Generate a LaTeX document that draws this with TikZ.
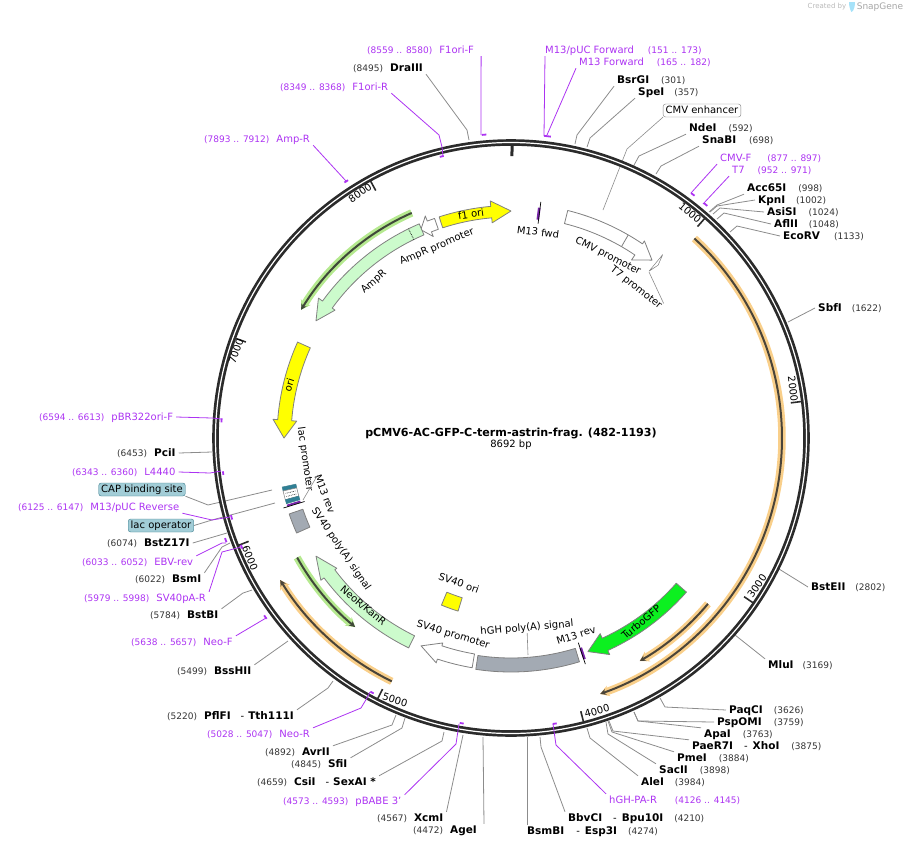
\documentclass[tikz,border=0pt]{standalone}
\usepackage{fontspec}
\setmainfont{DejaVu Sans}
\usetikzlibrary{arrows.meta}
\definecolor{ringc}{HTML}{2B2B2B}
\definecolor{primerc}{HTML}{AC33F2}
\definecolor{leaderc}{HTML}{8C8C8C}
\definecolor{ampc}{HTML}{CCFBCC}
\definecolor{grayc}{HTML}{A3AAB3}
\definecolor{capc}{HTML}{A2CDD7}
\definecolor{capd}{HTML}{3E7F8F}
\definecolor{tealc}{HTML}{2F7F95}
\definecolor{orangec}{HTML}{F9CF8A}
\definecolor{limec}{HTML}{B5E98F}
\definecolor{oric}{HTML}{FFFF00}
\definecolor{gfpc}{HTML}{0CF020}
\newcommand{\bpnum}[1]{{\fontsize{9}{10}\selectfont\color[HTML]{333333}#1}}
\newcommand{\enzname}[1]{{\fontsize{10.5}{12}\selectfont\bfseries #1}}
\tikzset{
  lab/.style={anchor=west, inner xsep=3pt, inner ysep=1pt, xshift=-3pt, text height=8pt, text depth=2pt, font=\fontsize{10}{12}\selectfont},
  enzlabel/.style={lab},
  primerlabel/.style={lab, text=primerc},
  boxlabel/.style={rounded corners=2.5pt, inner xsep=2.5pt, inner ysep=1.5pt, text height=8pt, text depth=2pt, font=\fontsize{10}{12}\selectfont},
  featlabel/.style={inner sep=0pt, font=\fontsize{10}{12}\selectfont},
  ticklabel/.style={inner sep=0pt, font=\fontsize{10}{12}\selectfont},
  enzline/.style={draw=leaderc, line width=0.8pt},
  primerline/.style={draw=primerc, line width=0.8pt},
  primerbar/.style={draw=primerc, line width=1.8pt},
  feat/.style={draw=gray, line width=0.8pt, line join=round},
  glow/.style={line width=7.5pt},
  core/.style={draw=ringc!85!orangec, line width=2pt, -{Stealth[length=6pt,width=6pt]}},
}
\begin{document}
\begin{tikzpicture}[x=1pt,y=-1pt]
  \useasboundingbox (0,0) rectangle (906,847);

  % enzyme labels, top and right
  \node[enzlabel] (bsrgi) at(617,80){\enzname{BsrGI}\hspace{12pt}\bpnum{(301)}};
  \node[enzlabel] (spei) at(638,92){\enzname{SpeI}\hspace{10pt}\bpnum{(357)}};
  \node[enzlabel] (ndei) at(689,128){\enzname{NdeI}\hspace{12pt}\bpnum{(592)}};
  \node[enzlabel] (snabi) at(702,140){\enzname{SnaBI}\hspace{13pt}\bpnum{(698)}};
  \node[enzlabel] (acc65i) at(747,188){\enzname{Acc65I}\hspace{12pt}\bpnum{(998)}};
  \node[enzlabel] (kpni) at(758,200){\enzname{KpnI}\hspace{11pt}\bpnum{(1002)}};
  \node[enzlabel] (asisi) at(767,212){\enzname{AsiSI}\hspace{12pt}\bpnum{(1024)}};
  \node[enzlabel] (aflii) at(774,224){\enzname{AflII}\hspace{11pt}\bpnum{(1048)}};
  \node[enzlabel] (ecorv) at(783,236){\enzname{EcoRV}\hspace{14pt}\bpnum{(1133)}};
  \node[enzlabel] (sbfi) at(818,308){\enzname{SbfI}\hspace{10pt}\bpnum{(1622)}};
  \node[enzlabel] (bsteii) at(811,587){\enzname{BstEII}\hspace{10pt}\bpnum{(2802)}};
  \node[enzlabel] (mlui) at(768,665){\enzname{MluI}\hspace{9pt}\bpnum{(3169)}};
  \node[enzlabel] (paqci) at(729,710){\enzname{PaqCI}\hspace{11pt}\bpnum{(3626)}};
  \node[enzlabel] (pspomi) at(717,722){\enzname{PspOMI}\hspace{12pt}\bpnum{(3759)}};
  \node[enzlabel] (apai) at(704,734){\enzname{ApaI}\hspace{12pt}\bpnum{(3763)}};
  \node[enzlabel] (paer7i) at(692,746){\enzname{PaeR7I}\hspace{11pt}-\hspace{5pt}\enzname{XhoI}\hspace{12pt}\bpnum{(3875)}};
  \node[enzlabel] (pmei) at(677,758){\enzname{PmeI}\hspace{12pt}\bpnum{(3884)}};
  \node[enzlabel] (sacii) at(659,770){\enzname{SacII}\hspace{12pt}\bpnum{(3898)}};
  \node[enzlabel] (alei) at(641,782){\enzname{AleI}\hspace{11pt}\bpnum{(3984)}};
  \node[enzlabel] (bbvci) at(568,818){\enzname{BbvCI}\hspace{11pt}-\hspace{5pt}\enzname{Bpu10I}\hspace{11pt}\bpnum{(4210)}};
  \node[enzlabel] (bsmbi) at(527,831){\enzname{BsmBI}\hspace{12pt}-\hspace{5pt}\enzname{Esp3I}\hspace{11pt}\bpnum{(4274)}};

  % enzyme labels, bottom and left
  \node[enzlabel] (agei) at(413,830){\bpnum{(4472)}\hspace{7pt}\enzname{AgeI}};
  \node[enzlabel] (xcmi) at(377,818){\bpnum{(4567)}\hspace{7pt}\enzname{XcmI}};
  \node[enzlabel] (csii) at(257,782){\bpnum{(4659)}\hspace{7pt}\enzname{CsiI}\hspace{10pt}-\hspace{4pt}\enzname{SexAI *}};
  \node[enzlabel] (sfii) at(291,764){\bpnum{(4845)}\hspace{7pt}\enzname{SfiI}};
  \node[enzlabel] (avrii) at(265,752){\bpnum{(4892)}\hspace{7pt}\enzname{AvrII}};
  \node[enzlabel] (pflfi) at(167,716){\bpnum{(5220)}\hspace{7pt}\enzname{PflFI}\hspace{10pt}-\hspace{4pt}\enzname{Tth111I}};
  \node[enzlabel] (bsshii) at(177,671){\bpnum{(5499)}\hspace{7pt}\enzname{BssHII}};
  \node[enzlabel] (bstbi) at(150,615){\bpnum{(5784)}\hspace{7pt}\enzname{BstBI}};
  \node[enzlabel] (bsmi) at(135,579){\bpnum{(6022)}\hspace{7pt}\enzname{BsmI}};
  \node[enzlabel] (bstz17i) at(107,543){\bpnum{(6074)}\hspace{7pt}\enzname{BstZ17I}};
  \node[enzlabel] (pcii) at(117,453){\bpnum{(6453)}\hspace{7pt}\enzname{PciI}};
  \node[enzlabel] (draiii) at(353,68){\bpnum{(8495)}\hspace{7pt}\enzname{DraIII}};

  % primer labels
  \node[primerlabel] (f1ori-f) at(367,50){\bpnum{\color{primerc}(8559 .. 8580)}\hspace{7pt}F1ori-F};
  \node[primerlabel] (f1ori-r) at(280,87){\bpnum{\color{primerc}(8349 .. 8368)}\hspace{7pt}F1ori-R};
  \node[primerlabel] (amp-r) at(204,139){\bpnum{\color{primerc}(7893 .. 7912)}\hspace{7pt}Amp-R};
  \node[primerlabel] (m13-puc-f) at(545,50){M13/pUC Forward\hspace{14pt}\bpnum{\color{primerc}(151 .. 173)}};
  \node[primerlabel] (m13-f) at(579,62){M13 Forward\hspace{13pt}\bpnum{\color{primerc}(165 .. 182)}};
  \node[primerlabel] (cmv-f) at(720,158){CMV-F\hspace{16pt}\bpnum{\color{primerc}(877 .. 897)}};
  \node[primerlabel] (t7) at(732,170){T7\hspace{13pt}\bpnum{\color{primerc}(952 .. 971)}};
  \node[primerlabel] (pbr322) at(39,417){\bpnum{\color{primerc}(6594 .. 6613)}\hspace{7pt}pBR322ori-F};
  \node[primerlabel] (l4440) at(72,472){\bpnum{\color{primerc}(6343 .. 6360)}\hspace{7pt}L4440};
  \node[primerlabel] (m13-puc-r) at(18,507){\bpnum{\color{primerc}(6125 .. 6147)}\hspace{7pt}M13/pUC Reverse};
  \node[primerlabel] (ebv-rev) at(82,562){\bpnum{\color{primerc}(6033 .. 6052)}\hspace{7pt}EBV-rev};
  \node[primerlabel] (sv40pa-r) at(84,598){\bpnum{\color{primerc}(5979 .. 5998)}\hspace{7pt}SV40pA-R};
  \node[primerlabel] (neo-f) at(131,642){\bpnum{\color{primerc}(5638 .. 5657)}\hspace{7pt}Neo-F};
  \node[primerlabel] (neo-r) at(207,734){\bpnum{\color{primerc}(5028 .. 5047)}\hspace{7pt}Neo-R};
  \node[primerlabel] (pbabe) at(283,801){\bpnum{\color{primerc}(4573 .. 4593)}\hspace{7pt}pBABE 3'};
  \node[primerlabel] (hgh-pa-r) at(609,800){hGH-PA-R\hspace{18pt}\bpnum{\color{primerc}(4126 .. 4145)}};

  % boxed labels
  \node[boxlabel, draw=gray, fill=white] (cmv-enh) at(702,110.5){CMV enhancer};
  \node[boxlabel, draw=capd, fill=capc] (cap-site) at(142,489.5){CAP binding site};
  \node[boxlabel, draw=capd, fill=capc] (lac-op) at(161,525.5){lac operator};

  % leader ends
  \coordinate (draiii-end) at (469,140);
  \coordinate (bsrgi-end) at (575,144);
  \coordinate (spei-end) at (587,147);
  \coordinate (cmv-enh-end) at (603,210);
  \coordinate (ndei-end) at (633,167);
  \coordinate (snabi-end) at (656,174);
  \coordinate (acc65i-end) at (709,212);
  \coordinate (kpni-end) at (710,212);
  \coordinate (asisi-end) at (713,214);
  \coordinate (aflii-end) at (717,219);
  \coordinate (ecorv-end) at (730,232);
  \coordinate (sbfi-end) at (788,322);
  \coordinate (bsteii-end) at (779,569);
  \coordinate (mlui-end) at (735,635);
  \coordinate (paqci-end) at (660,698);
  \coordinate (pspomi-end) at (634,712);
  \coordinate (apai-end) at (634,712);
  \coordinate (paer7i-end) at (609,721);
  \coordinate (pmei-end) at (608,721);
  \coordinate (sacii-end) at (606,722);
  \coordinate (alei-end) at (587,728);
  \coordinate (bbvci-end) at (540,737);
  \coordinate (bsmbi-end) at (527,737);
  \coordinate (agei-end) at (483,737);
  \coordinate (xcmi-end) at (463,735);
  \coordinate (csii-end) at (444,732);
  \coordinate (sfii-end) at (405,718);
  \coordinate (avrii-end) at (396,715);
  \coordinate (pflfi-end) at (333,681);
  \coordinate (bsshii-end) at (288,641);
  \coordinate (bstbi-end) at (252,590);
  \coordinate (bsmi-end) at (230,543);
  \coordinate (bstz17i-end) at (227,533);
  \coordinate (pcii-end) at (212,452);
  \coordinate (cap-site-end) at (272,490);
  \coordinate (lac-op-end) at (275,503);

  % enzyme leaders
  \draw[enzline] (draiii.south east) -- (467,130) -- (draiii-end);
  \draw[enzline] (bsrgi.south west) -- (577,135) -- (bsrgi-end);
  \draw[enzline] (spei.south west) -- (590,138) -- (spei-end);
  \draw[enzline, line width=0.6pt] (cmv-enh.south west) -- (627,149) -- (cmv-enh-end);
  \draw[enzline] (ndei.south west) -- (639,156) -- (ndei-end);
  \draw[enzline] (snabi.south west) -- (661,166) -- (snabi-end);
  \draw[enzline] (acc65i.south west) -- (717,205) -- (acc65i-end);
  \draw[enzline] (kpni.west) -- (717,206) -- (kpni-end);
  \draw[enzline] (asisi.west) -- (720,208) -- (asisi-end);
  \draw[enzline] (aflii.west) -- (724,213) -- (aflii-end);
  \draw[enzline] (ecorv.west) -- (737,226) -- (ecorv-end);
  \draw[enzline] (sbfi.west) -- (sbfi-end);
  \draw[enzline] (bsteii.west) -- (bsteii-end);
  \draw[enzline] (mlui.north west) -- (mlui-end);
  \draw[enzline] (paqci.west) -- (665,707) -- (paqci-end);
  \draw[enzline] (pspomi.west) -- (638,721) -- (pspomi-end);
  \draw[enzline] (apai.north west) -- (638,721) -- (apai-end);
  \draw[enzline] (paer7i.north west) -- (613,731) -- (paer7i-end);
  \draw[enzline] (pmei.north west) -- (612,732) -- (pmei-end);
  \draw[enzline] (sacii.north west) -- (608,734) -- (sacii-end);
  \draw[enzline] (alei.north west) -- (590,738) -- (alei-end);
  \draw[enzline] (bbvci.north west) -- (541,747) -- (bbvci-end);
  \draw[enzline] ([xshift=3pt]bsmbi.north west) -- (bsmbi-end);
  \draw[enzline] ([xshift=4pt]agei.north east) -- (agei-end);
  \draw[enzline] (xcmi.north east) -- (xcmi-end);
  \draw[enzline] (csii.north east) -- (442,741) -- (csii-end);
  \draw[enzline] (sfii.north east) -- (402,728) -- (sfii-end);
  \draw[enzline] (avrii.north east) -- (392,725) -- (avrii-end);
  \draw[enzline] (pflfi.north east) -- (328,688) -- (pflfi-end);
  \draw[enzline] (bsshii.north east) -- (bsshii-end);
  \draw[enzline] (bstbi.north east) -- (243,593) -- (bstbi-end);
  \draw[enzline] (bsmi.north east) -- (222,547) -- (bsmi-end);
  \draw[enzline] (bstz17i.east) -- (bstz17i-end);
  \draw[enzline] (pcii.east) -- (pcii-end);
  \draw[enzline] (cap-site.south east) -- (208,505) -- (cap-site-end);
  \draw[enzline] (lac-op.east) -- (212,520) -- (lac-op-end);

  \begin{scope}[shift={(511,438)}]
    % backbone
    \draw[ringc, line width=6.6pt] (0,0) circle[radius=295.5];
    \draw[white, line width=1.2pt] (0,0) circle[radius=295.5];
    \draw[ringc, line width=3pt] (-89.8:293) -- (-89.8:282);
    \foreach \a in {-48.58,-7.16,34.25,75.67,117.09,158.5,199.9,241.34}
      \draw[ringc, line width=1.6pt] (\a:293) -- (\a:282);

    % bands outside the features
    \draw[orangec, glow, -{Stealth[length=9pt,width=11pt]}] (-47.4:271) arc[start angle=-47.4,end angle=70.8,radius=271];
    \draw[core] (-47.4:271) arc[start angle=-47.4,end angle=70.8,radius=271];
    \draw[orangec, glow, -{Stealth[length=9pt,width=11pt]}] (40.1:257.5) arc[start angle=40.1,end angle=60,radius=257.5];
    \draw[core] (40.1:257.5) arc[start angle=40.1,end angle=60,radius=257.5];
    \draw[orangec, glow, -{Stealth[length=9pt,width=11pt]}] (116.1:271) arc[start angle=116.1,end angle=148.4,radius=271];
    \draw[core] (116.1:271) arc[start angle=116.1,end angle=148.4,radius=271];
    \draw[limec, glow, -{Stealth[length=9pt,width=11pt]}] (-113.8:246) arc[start angle=-113.8,end angle=-148.6,radius=246];
    \draw[core, draw=ringc!85!limec] (-113.8:246) arc[start angle=-113.8,end angle=-148.6,radius=246];
    \draw[limec, glow, -{Stealth[length=9pt,width=11pt]}] (150.8:245) arc[start angle=150.8,end angle=129.5,radius=245];
    \draw[core, draw=ringc!85!limec] (150.8:245) arc[start angle=150.8,end angle=129.5,radius=245];

    % features
    \draw[feat, fill=oric] (-108:232.5) arc[start angle=-108,end angle=-95,radius=232.5] -- (-95:238) -- (-90:227) -- (-95:216) -- (-95:221) arc[start angle=-95,end angle=-108,radius=221] -- cycle;
    \draw[feat, fill=white] (-109.2:232.5) arc[start angle=-109.2,end angle=-111.1,radius=232.5] -- (-111.1:238) -- (-113.4:227) -- (-111.1:216) -- (-111.1:221) arc[start angle=-111.1,end angle=-109.2,radius=221] -- cycle;
    \draw[feat, fill=ampc] (-113.2:233) arc[start angle=-113.2,end angle=-144,radius=233] -- (-144:238) -- (-149:227.5) -- (-144:217.5) -- (-144:221) arc[start angle=-144,end angle=-113.2,radius=221] -- cycle;
    \draw[black, densely dotted, line width=0.7pt] (-116.1:221) -- (-116.1:233);
    \draw[feat, fill=oric] (-155.8:234) arc[start angle=-155.8,end angle=-175.5,radius=234] -- (-175.5:238.7) -- (-180:227) -- (-175.5:215) -- (-175.5:220) arc[start angle=-175.5,end angle=-155.8,radius=220] -- cycle;
    \draw[feat, fill=ampc] (116:233.5) arc[start angle=116,end angle=143.2,radius=233.5] -- (143.2:237.5) -- (148.8:228) -- (143.2:217.5) -- (143.2:220) arc[start angle=143.2,end angle=116,radius=220] -- cycle;
    \draw[feat, fill=gfpc] (41.3:233.5) arc[start angle=41.3,end angle=65.5,radius=233.5] -- (65.5:238) -- (70.2:227) -- (65.5:215) -- (65.5:220) arc[start angle=65.5,end angle=41.3,radius=220] -- cycle;
    \draw[feat, fill=grayc] (98.65:234) arc[start angle=98.65,end angle=73,radius=234] -- (73:220) arc[start angle=73,end angle=98.65,radius=220] -- cycle;
    \draw[feat, fill=white] (99.6:233) arc[start angle=99.6,end angle=108.4,radius=233] -- (108.4:237) -- (113.4:226.5) -- (108.4:216) -- (108.4:219) arc[start angle=108.4,end angle=99.6,radius=219] -- cycle;
    \draw[feat, fill=white] (-76:234.5) arc[start angle=-76,end angle=-55.9,radius=234.5] -- (-55.9:238) -- (-51.6:227) -- (-55.9:215) -- (-55.9:221) arc[start angle=-55.9,end angle=-76,radius=221] -- cycle;
    \draw[feat] (-60:234.5) -- (-60:221);
    \draw[feat, line width=0.5pt, fill=white] (-50.4:221) -- (-50.4:216.5) -- (-49.6:227) -- (-50.4:238) -- (-50.4:233) -- cycle;
    \draw[feat, fill=oric] (112.6:181) arc[start angle=112.6,end angle=107,radius=181] -- (107:167) arc[start angle=107,end angle=112.6,radius=167] -- cycle;
    \draw[feat, fill=grayc] (161.1:234.5) arc[start angle=161.1,end angle=156.1,radius=234.5] -- (156.1:220) arc[start angle=156.1,end angle=161.1,radius=220] -- cycle;

    % small marks
    \draw[primerc!70!black, line width=2.6pt] (71.6:221) -- (71.6:233);
    \draw[black, line width=0.7pt] (71.8:215.5) -- (71.8:238);
    \draw[primerc!70!black, line width=2.6pt] (-83:220) -- (-83:232);
    \draw[black, line width=0.7pt] (-82.8:216) -- (-82.8:238);
    \draw[draw=capd, fill=tealc, line width=0.5pt] (167.9:234) arc[start angle=167.9,end angle=166.9,radius=234] -- (166.9:220) arc[start angle=166.9,end angle=167.9,radius=220] -- cycle;
    \draw[draw=gray, fill=white, line width=0.5pt] (166.9:234) arc[start angle=166.9,end angle=164.7,radius=234] -- (164.7:220) arc[start angle=164.7,end angle=166.9,radius=220] -- cycle;
    \draw[black, densely dotted, line width=0.6pt] (166.2:222) -- (166.2:232);
    \draw[black, densely dotted, line width=0.6pt] (165.4:222) -- (165.4:232);
    \draw[draw=capd, fill=tealc, line width=0.5pt] (164.7:234) arc[start angle=164.7,end angle=163.7,radius=234] -- (163.7:220) arc[start angle=163.7,end angle=164.7,radius=220] -- cycle;
    \draw[primerc!70!black, line width=2pt] (163.2:220) -- (163.2:234);
    \draw[black, line width=0.7pt] (162.9:216) -- (162.9:238);

    % primer bars
    \draw[primerbar] (264.49:304.5) arc[start angle=264.49,end angle=265.36,radius=304.5];
    \draw[primerbar] (255.79:290) arc[start angle=255.79,end angle=256.58,radius=290];
    \draw[primerbar] (236.9:305) arc[start angle=236.9,end angle=237.7,radius=305];
    \draw[primerbar] (-83.75:304) arc[start angle=-83.75,end angle=-82.46,radius=304];
    \draw[primerbar] (-53.68:304) arc[start angle=-53.68,end angle=-52.85,radius=304];
    \draw[primerbar] (-50.57:304) arc[start angle=-50.57,end angle=-49.78,radius=304];
    \draw[primerbar] (183.1:290) arc[start angle=183.1,end angle=183.9,radius=290];
    \draw[primerbar] (172.7:290) arc[start angle=172.7,end angle=173.4,radius=290];
    \draw[primerbar] (163.7:290.5) arc[start angle=163.7,end angle=164.6,radius=290.5];
    \draw[primerbar] (159.9:303) arc[start angle=159.9,end angle=160.7,radius=303];
    \draw[primerbar] (157.6:290.5) arc[start angle=157.6,end angle=158.4,radius=290.5];
    \draw[primerbar] (143.5:304) arc[start angle=143.5,end angle=144.3,radius=304];
    \draw[primerbar] (118.25:290) arc[start angle=118.25,end angle=119,radius=290];
    \draw[primerbar] (99.4:289.5) arc[start angle=99.4,end angle=100.2,radius=289.5];
    \draw[primerbar] (80.9:289) arc[start angle=80.9,end angle=81.7,radius=289];
  \end{scope}

  % primer ends
  \coordinate (f1ori-f-end) at (481,135);
  \coordinate (f1ori-r-end) at (443,156);
  \coordinate (amp-r-end) at (346,181);
  \coordinate (m13-puc-f-end) at (544,136);
  \coordinate (m13-f-end) at (547,135);
  \coordinate (cmv-f-end) at (691,193);
  \coordinate (t7-end) at (703,204);
  \coordinate (pbr322-end) at (221,419);
  \coordinate (l4440-end) at (221,471);
  \coordinate (m13-puc-r-end) at (230,517);
  \coordinate (ebv-rev-end) at (226,543);
  \coordinate (sv40pa-r-end) at (241,547);
  \coordinate (neo-f-end) at (266,618);
  \coordinate (neo-r-end) at (370,692);
  \coordinate (pbabe-end) at (459,724);
  \coordinate (hgh-pa-r-end) at (553,724);

  % primer leaders
  \draw[primerline] ([xshift=4pt]f1ori-f.south east) -- (f1ori-f-end);
  \draw[primerline] (f1ori-r.south east) -- (439,135) -- (442,147) -- (f1ori-r-end);
  \draw[primerline] (amp-r.south east) -- (amp-r-end);
  \draw[primerline] ([xshift=3pt]m13-puc-f.south west) -- (m13-puc-f-end);
  \draw[primerline] (m13-f.south west) -- (m13-f-end);
  \draw[primerline] (cmv-f.south west) -- (cmv-f-end);
  \draw[primerline] (t7.south west) -- (t7-end);
  \draw[primerline] (pbr322.east) -- (212,418) -- (pbr322-end);
  \draw[primerline] (l4440.east) -- (210,473) -- (l4440-end);
  \draw[primerline] (m13-puc-r.south east) -- (212,520) -- (m13-puc-r-end);
  \draw[primerline] (ebv-rev.north east) -- (222,543) -- (ebv-rev-end);
  \draw[primerline] (sv40pa-r.north east) -- (222,552) -- (sv40pa-r-end);
  \draw[primerline] (neo-f.north east) -- (neo-f-end);
  \draw[primerline] (neo-r.north east) -- (361,708) -- (367,698) -- (neo-r-end);
  \draw[primerline] (pbabe.north east) -- (456,744) -- (pbabe-end);
  \draw[primerline] (hgh-pa-r.north west) -- (556,745) -- (hgh-pa-r-end);

  % tick labels
  \node[ticklabel, rotate=-40] (t-1000) at(690,213){1000};
  \node[ticklabel, rotate=-83] (t-2000) at(793,389){2000};
  \node[ticklabel, rotate=55] (t-3000) at(757,586){3000};
  \node[ticklabel, rotate=15] (t-4000) at(597,711){4000};
  \node[ticklabel, rotate=-17] (t-5000) at(395,700){5000};
  \node[ticklabel, rotate=-68] (t-6000) at(250,558){6000};
  \node[ticklabel, rotate=70] (t-7000) at(236,351){7000};
  \node[ticklabel, rotate=35] (t-8000) at(360,193){8000};

  % feature labels
  \node[featlabel, rotate=8] (f1-ori) at(471,214){f1 ori};
  \node[featlabel, rotate=-7] (m13-fwd) at(538,232){M13 fwd};
  \node[featlabel, rotate=-27] (cmv-prom) at(608,256){CMV promoter};
  \node[featlabel, rotate=-38] (t7-prom) at(636,288){T7 promoter};
  \node[featlabel, rotate=23] (ampr-prom) at(437,247){AmpR promoter};
  \node[featlabel, rotate=41] (ampr) at(374,282){AmpR};
  \node[featlabel, rotate=72] (ori) at(289,385){ori};
  \node[featlabel, rotate=-82] (lac-prom) at(305,459){lac promoter};
  \node[featlabel, rotate=-69] (m13-rev-l) at(325,494){M13 rev};
  \node[featlabel, rotate=-56] (sv40-pa) at(341,549){SV40 poly(A) signal};
  \node[featlabel, rotate=-40] (neor) at(363,606){NeoR/KanR};
  \node[featlabel, rotate=-20] (sv40-ori) at(459,583){SV40 ori};
  \node[featlabel, rotate=-17] (sv40-prom) at(453,635){SV40 promoter};
  \node[featlabel, rotate=5] (hgh-pa) at(527,628){hGH poly(A) signal};
  \node[featlabel, rotate=18] (m13-rev-r) at(576,635){M13 rev};
  \node[featlabel, rotate=40] (turbogfp) at(641,622){TurboGFP};

  % feature leaders
  \coordinate (hgh-pa-end) at (528,655);
  \coordinate (t7-prom-end) at (649,272);
  \coordinate (m13-rev-l-end) at (303,500);
  \draw[enzline, line width=0.6pt] (hgh-pa) -- (hgh-pa-end);
  \draw[enzline, line width=0.6pt] (t7-prom.north east) -- (t7-prom-end);
  \draw[enzline, line width=0.6pt] (m13-rev-l.west) -- (m13-rev-l-end);

  % centre
  \node[inner sep=0pt, font=\fontsize{11.1}{13}\selectfont\bfseries] (map-name) at(511,433){pCMV6-AC-GFP-C-term-astrin-frag. (482-1193)};
  \node[inner sep=0pt, font=\fontsize{10}{12}\selectfont] (map-size) at(511,445){8692 bp};

  % watermark
  \node[inner sep=0pt, text=gray!55, font=\fontsize{7}{8}\selectfont] (made-by) at(827,7){Created by};
  \fill[cyan!35] (849,2) -- (855,2) .. controls (855,6) and (854,11) .. (851.5,12) .. controls (850,10) and (849,6) .. (849,2);
  \node[inner sep=0pt, text=gray!70, font=\fontsize{9}{10}\selectfont] (made-with) at(880,7){SnapGene};
\end{tikzpicture}
\end{document}
